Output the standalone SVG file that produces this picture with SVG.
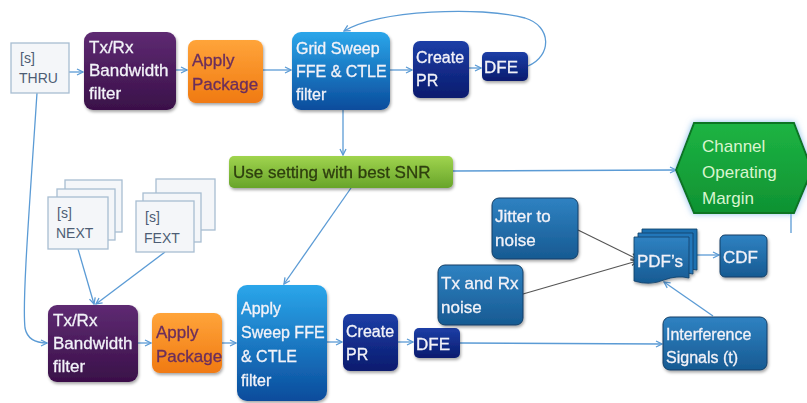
<svg xmlns="http://www.w3.org/2000/svg" width="807" height="403" viewBox="0 0 807 403">
<defs>
<linearGradient id="gPurple" x1="0" y1="0" x2="0" y2="1"><stop offset="0" stop-color="#5e2a72"/><stop offset="1" stop-color="#3a1049"/></linearGradient>
<linearGradient id="gOrange" x1="0" y1="0" x2="0" y2="1"><stop offset="0" stop-color="#ffa43a"/><stop offset="1" stop-color="#f07a12"/></linearGradient>
<linearGradient id="gBlue" x1="0" y1="0" x2="0" y2="1"><stop offset="0" stop-color="#2ba6ea"/><stop offset="1" stop-color="#0a4c9c"/></linearGradient>
<linearGradient id="gNavy" x1="0" y1="0" x2="0" y2="1"><stop offset="0" stop-color="#1c3ea6"/><stop offset="1" stop-color="#0a1b6e"/></linearGradient>
<linearGradient id="gSteel" x1="0" y1="0" x2="0" y2="1"><stop offset="0" stop-color="#2f82c2"/><stop offset="1" stop-color="#175a92"/></linearGradient>
<linearGradient id="gGreen" x1="0" y1="0" x2="0" y2="1"><stop offset="0" stop-color="#a0d44e"/><stop offset="1" stop-color="#68a42a"/></linearGradient>
<linearGradient id="gCom" x1="0" y1="0" x2="0" y2="1"><stop offset="0" stop-color="#1db443"/><stop offset="1" stop-color="#0f9232"/></linearGradient>
<filter id="sh" x="-10%" y="-10%" width="130%" height="130%"><feDropShadow dx="1" dy="2" stdDeviation="1.5" flood-color="#000" flood-opacity="0.35"/></filter>
<filter id="glow" x="-20%" y="-20%" width="140%" height="140%"><feDropShadow dx="0" dy="0" stdDeviation="3" flood-color="#7fb8e8" flood-opacity="0.9"/></filter>
<marker id="a" viewBox="0 0 8 8" refX="7" refY="4" markerWidth="8" markerHeight="8" markerUnits="userSpaceOnUse" orient="auto"><path d="M1,1 L7,4 L1,7" fill="none" stroke="#5b9bd5" stroke-width="1.3"/></marker>
<marker id="ag" viewBox="0 0 8 8" refX="7" refY="4" markerWidth="8" markerHeight="8" markerUnits="userSpaceOnUse" orient="auto"><path d="M1,1 L7,4 L1,7" fill="none" stroke="#555" stroke-width="1.3"/></marker>
<style>
text{font-family:"Liberation Sans",Arial,sans-serif;font-size:17px;}
.w{fill:#f2f2f8;stroke:#f2f2f8;stroke-width:0.3;}
.s16{font-size:16px;}
.dk{fill:#4d5d74;font-size:14px;}
.pk{fill:#6b2e5c;stroke:#6b2e5c;stroke-width:0.3;}
.sheet{fill:#f4f6f9;stroke:#a8bdd2;stroke-width:1.3;}
.c{fill:none;stroke:#5b9bd5;stroke-width:1.3;}
.cg{fill:none;stroke:#555;stroke-width:1.1;}
</style>
</defs>
<rect width="807" height="403" fill="#ffffff"/>

<g id="connectors">
<line class="c" x1="69" y1="72" x2="83" y2="72" marker-end="url(#a)"/>
<line class="c" x1="176" y1="70" x2="187" y2="70" marker-end="url(#a)"/>
<line class="c" x1="263" y1="70" x2="291" y2="70" marker-end="url(#a)"/>
<line class="c" x1="390" y1="70" x2="412" y2="70" marker-end="url(#a)"/>
<line class="c" x1="469" y1="68" x2="481" y2="68" marker-end="url(#a)"/>
<path class="c" d="M528,66 C552,56 552,26 525,18 C480,6 380,10 344,31" marker-end="url(#a)"/>
<line class="c" x1="343" y1="110" x2="343" y2="155" marker-end="url(#a)"/>
<line class="c" x1="453" y1="171" x2="676" y2="170" marker-end="url(#a)"/>
<line class="c" x1="351" y1="188" x2="284" y2="284" marker-end="url(#a)"/>
<path class="c" d="M37,93 C30,200 22,300 25,328 Q28,343 47,343" marker-end="url(#a)"/>
<line class="c" x1="78" y1="249" x2="94" y2="304" marker-end="url(#a)"/>
<line class="c" x1="165" y1="252" x2="96" y2="304" marker-end="url(#a)"/>
<line class="c" x1="138" y1="343" x2="151" y2="343" marker-end="url(#a)"/>
<line class="c" x1="222" y1="343" x2="236" y2="343" marker-end="url(#a)"/>
<line class="c" x1="327" y1="342" x2="342" y2="342" marker-end="url(#a)"/>
<line class="c" x1="398" y1="342" x2="413" y2="342" marker-end="url(#a)"/>
<line class="c" x1="460" y1="343" x2="662" y2="344" marker-end="url(#a)"/>
<line class="c" x1="713" y1="316" x2="664" y2="282" marker-end="url(#a)"/>
<line class="c" x1="697" y1="255" x2="719" y2="255" marker-end="url(#a)"/>
<line class="c" x1="791" y1="233" x2="791" y2="208" marker-end="url(#a)"/>
<line class="cg" x1="578" y1="230" x2="637" y2="259" marker-end="url(#ag)"/>
<line class="cg" x1="523" y1="294" x2="637" y2="261" marker-end="url(#ag)"/>
</g>

<g id="thru">
<rect class="sheet" x="11" y="43" width="58" height="50"/>
<text class="dk" x="20" y="63">[s]</text>
<text class="dk" x="19" y="83">THRU</text>
</g>

<g id="txrx-top" filter="url(#sh)">
<rect x="84" y="32" width="92" height="78" rx="9" fill="url(#gPurple)"/>
<text class="w" x="89" y="53">Tx/Rx</text>
<text class="w" x="89" y="76">Bandwidth</text>
<text class="w" x="89" y="99">filter</text>
</g>

<g id="pkg-top" filter="url(#sh)">
<rect x="188" y="40" width="75" height="63" rx="8" fill="url(#gOrange)"/>
<text class="pk" x="192" y="66">Apply</text>
<text class="pk" x="192" y="90">Package</text>
</g>

<g id="grid-sweep" filter="url(#sh)">
<rect x="292" y="32" width="98" height="78" rx="9" fill="url(#gBlue)"/>
<text class="w s16" x="296" y="54">Grid Sweep</text>
<text class="w s16" x="296" y="77">FFE &amp; CTLE</text>
<text class="w s16" x="296" y="100">filter</text>
</g>

<g id="create-pr-top" filter="url(#sh)">
<rect x="413" y="41" width="56" height="57" rx="7" fill="url(#gNavy)"/>
<text class="w s16" x="416" y="63">Create</text>
<text class="w s16" x="416" y="86">PR</text>
</g>

<g id="dfe-top" filter="url(#sh)">
<rect x="482" y="52" width="46" height="29" rx="5" fill="url(#gNavy)"/>
<text class="w" x="484" y="73">DFE</text>
</g>

<g id="best-snr" filter="url(#sh)">
<rect x="229" y="156" width="224" height="32" rx="5" fill="url(#gGreen)"/>
<text x="233" y="178" fill="#2e3f0f" stroke="#2e3f0f" stroke-width="0.3" font-size="16">Use setting with best SNR</text>
</g>

<g id="com">
<polygon points="676,170 694,123 794,123 812,170 794,213 694,213" fill="url(#gCom)" stroke="#0a7424" stroke-width="2" filter="url(#glow)"/>
<text x="702" y="152" fill="#d9f5cf" font-size="19">Channel</text>
<text x="702" y="178" fill="#d9f5cf" font-size="19">Operating</text>
<text x="702" y="204" fill="#d9f5cf" font-size="19">Margin</text>
</g>

<g id="next">
<rect class="sheet" x="65" y="180" width="57" height="52"/>
<rect class="sheet" x="57" y="189" width="58" height="51"/>
<rect class="sheet" x="48" y="197" width="60" height="52"/>
<text class="dk" x="57" y="218">[s]</text>
<text class="dk" x="56" y="238">NEXT</text>
</g>

<g id="fext">
<rect class="sheet" x="156" y="179" width="59" height="51"/>
<rect class="sheet" x="143" y="193" width="58" height="49"/>
<rect class="sheet" x="136" y="201" width="58" height="51"/>
<text class="dk" x="145" y="222">[s]</text>
<text class="dk" x="144" y="243">FEXT</text>
</g>

<g id="txrx-bottom" filter="url(#sh)">
<rect x="48" y="305" width="90" height="77" rx="9" fill="url(#gPurple)"/>
<text class="w" x="53" y="326">Tx/Rx</text>
<text class="w" x="53" y="349">Bandwidth</text>
<text class="w" x="53" y="372">filter</text>
</g>

<g id="pkg-bottom" filter="url(#sh)">
<rect x="152" y="313" width="70" height="60" rx="8" fill="url(#gOrange)"/>
<text class="pk" x="156" y="338">Apply</text>
<text class="pk" x="156" y="362">Package</text>
</g>

<g id="apply-sweep" filter="url(#sh)">
<rect x="237" y="285" width="90" height="116" rx="10" fill="url(#gBlue)"/>
<text class="w s16" x="241" y="314">Apply</text>
<text class="w s16" x="241" y="338">Sweep FFE</text>
<text class="w s16" x="241" y="362">&amp; CTLE</text>
<text class="w s16" x="241" y="386">filter</text>
</g>

<g id="create-pr-bottom" filter="url(#sh)">
<rect x="343" y="314" width="55" height="57" rx="7" fill="url(#gNavy)"/>
<text class="w s16" x="346" y="337">Create</text>
<text class="w s16" x="346" y="360">PR</text>
</g>

<g id="dfe-bottom" filter="url(#sh)">
<rect x="414" y="328" width="46" height="30" rx="5" fill="url(#gNavy)"/>
<text class="w" x="416" y="350">DFE</text>
</g>

<g id="jitter" filter="url(#sh)">
<rect x="492" y="198" width="86" height="61" rx="7" fill="url(#gSteel)" stroke="#123f66" stroke-width="1"/>
<text class="w" x="495" y="222">Jitter to</text>
<text class="w" x="495" y="246">noise</text>
</g>

<g id="txrx-noise" filter="url(#sh)">
<rect x="438" y="265" width="85" height="60" rx="7" fill="url(#gSteel)" stroke="#123f66" stroke-width="1"/>
<text class="w" x="441" y="289">Tx and Rx</text>
<text class="w" x="441" y="313">noise</text>
</g>

<g id="pdfs" filter="url(#sh)">
<path d="M642,229 L697,229 L697,270 Q685,267 672,272 Q658,277 642,273 Z" fill="#1f6fb0" stroke="#0f3d66" stroke-width="0.8"/>
<path d="M638,233 L693,233 L693,274 Q681,271 668,276 Q654,281 638,277 Z" fill="#2377ba" stroke="#0f3d66" stroke-width="0.8"/>
<path d="M634,237 L689,237 L689,278 Q677,275 664,280 Q650,286 634,281 Z" fill="url(#gSteel)" stroke="#0f3d66" stroke-width="0.8"/>
<text class="w" x="637" y="267">PDF’s</text>
</g>

<g id="cdf" filter="url(#sh)">
<rect x="720" y="235" width="47" height="42" rx="5" fill="url(#gSteel)" stroke="#123f66" stroke-width="1"/>
<text class="w" x="723" y="263">CDF</text>
</g>

<g id="interference" filter="url(#sh)">
<rect x="663" y="317" width="104" height="53" rx="7" fill="url(#gSteel)" stroke="#123f66" stroke-width="1"/>
<text class="w s16" x="666" y="340">Interference</text>
<text class="w s16" x="666" y="363">Signals  (t)</text>
</g>
</svg>
